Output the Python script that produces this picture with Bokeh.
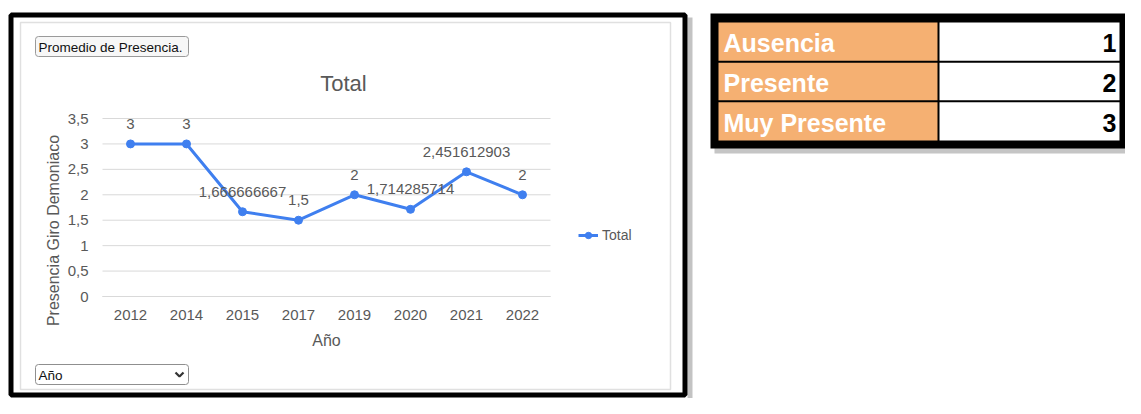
import math
from bokeh.plotting import figure
from bokeh.models import (Range1d, FixedTicker, CustomJSTickFormatter,
                          ColumnDataSource, LabelSet, Label, BoxAnnotation,
                          Legend, LegendItem)
from bokeh.core.properties import value
from bokeh.embed import file_html
from bokeh.resources import INLINE

# ---------------- data ----------------
years = ["2012", "2014", "2015", "2017", "2019", "2020", "2021", "2022"]
totals = [3, 3, 1.666666667, 1.5, 2, 1.714285714, 2.451612903, 2]
y_ticks = [0, 0.5, 1, 1.5, 2, 2.5, 3, 3.5]
table_labels = ["Ausencia", "Presente", "Muy Presente"]
table_values = [1, 2, 3]

chart_title = "Total"
x_title = "Año"
y_title = "Presencia Giro Demoniaco"
filter_button = "Promedio de Presencia."
axis_dropdown = "Año"

# ---------------- layout helpers ----------------
W, H = 1125, 398
PL, PR, PT, PB = 102, 550, 118, 296     # plot area in canvas px (from top-left)
Y_MAX = 3.5
n_cat = len(years)
kx = (PR - PL) / n_cat
ky = (PB - PT) / Y_MAX


def X(r):   # canvas x (from left) -> pixel range
    return r


def Y(r):   # canvas y (from top) -> pixel range (y up)
    return H - r


GRAY_TXT = "#595959"
BLUE = "#3F7FEF"
FONT = "Liberation Sans"

cat_pos = [i + 0.5 for i in range(n_cat)]   # category centres on the x scale

p = figure(width=W, height=H,
           x_range=Range1d(-PL / kx, (W - PL) / kx),
           y_range=Range1d(-(H - PB) / ky, Y_MAX + PT / ky),
           output_backend="svg", toolbar_location=None,
           min_border=0, outline_line_color=None,
           background_fill_color="white", border_fill_color="white")
p.extra_x_ranges = {"px": Range1d(0, W)}
p.extra_y_ranges = {"px": Range1d(0, H)}
p.grid.visible = False

# axes (fixed at the plot-area edges)
p.xaxis.fixed_location = 0
p.xaxis.bounds = (0, n_cat)
p.xaxis.ticker = FixedTicker(ticks=cat_pos, minor_ticks=[])
p.xaxis.formatter = CustomJSTickFormatter(args=dict(cats=years),
                                          code="return cats[Math.floor(tick)];")
p.xaxis.axis_line_color = "#d9d9d9"
p.xaxis.major_tick_line_color = None
p.xaxis.minor_tick_line_color = None
p.xaxis.major_tick_out = 0
p.xaxis.major_tick_in = 0
p.xaxis.major_label_standoff = 13
p.xaxis.major_label_text_font = FONT
p.xaxis.major_label_text_font_size = "15px"
p.xaxis.major_label_text_color = GRAY_TXT
p.xaxis.axis_label = x_title
p.xaxis.axis_label_text_font = FONT
p.xaxis.axis_label_text_font_size = "16px"
p.xaxis.axis_label_text_font_style = "normal"
p.xaxis.axis_label_text_color = GRAY_TXT
p.xaxis.axis_label_standoff = 9

p.yaxis.fixed_location = 0
p.yaxis.bounds = (0, Y_MAX)
p.yaxis.ticker = FixedTicker(ticks=y_ticks, minor_ticks=[])
p.yaxis.formatter = CustomJSTickFormatter(code="return tick.toString().replace('.', ',');")
p.yaxis.axis_line_color = None
p.yaxis.major_tick_line_color = None
p.yaxis.minor_tick_line_color = None
p.yaxis.major_tick_out = 0
p.yaxis.major_tick_in = 0
p.yaxis.major_label_standoff = 14
p.yaxis.major_label_text_font = FONT
p.yaxis.major_label_text_font_size = "15px"
p.yaxis.major_label_text_color = GRAY_TXT

# horizontal gridlines across the plot area
gsrc = ColumnDataSource(dict(y=y_ticks))
p.segment(x0=0, x1=n_cat, y0="y", y1="y", source=gsrc, line_color="#d9d9d9", line_width=1)

# series
src = ColumnDataSource(dict(x=cat_pos, y=totals, year=years,
                            txt=[f"{v:.10g}".replace(".", ",") for v in totals]))
lr = p.line("x", "y", source=src, line_color=BLUE, line_width=3)
sr = p.scatter("x", "y", source=src, size=8, fill_color=BLUE, line_color=BLUE)
p.add_layout(LabelSet(x="x", y="y", text="txt", source=src, y_offset=20,
                      text_align="center", text_baseline="middle",
                      text_font=value(FONT), text_font_size="15px", text_color=GRAY_TXT))

legend = Legend(items=[LegendItem(label="Total", renderers=[lr, sr])],
                location=(X(578), Y(243)), padding=0, margin=0, spacing=0,
                glyph_width=20, glyph_height=16, label_height=16, label_standoff=4,
                label_text_font=FONT, label_text_font_size="14px",
                label_text_color=GRAY_TXT, background_fill_alpha=0,
                border_line_color=None)
p.add_layout(legend, "center")


def box(l, r, t, b, fill=None, line=None, lw=1, alpha=1.0, radius=0):
    bx = BoxAnnotation(left=X(l), right=X(r), top=Y(t), bottom=Y(b),
                       x_range_name="px", y_range_name="px",
                       fill_color=fill if fill else "white",
                       fill_alpha=alpha if fill else 0,
                       line_color=line if line else "white",
                       line_alpha=1 if line else 0, line_width=lw,
                       border_radius=radius)
    p.add_layout(bx)
    return bx


def label(x, y, text, size, color, align="left", baseline="middle", font=FONT,
          style="normal", angle=0):
    p.add_layout(Label(x=X(x), y=Y(y), text=text, x_range_name="px", y_range_name="px",
                       text_font=font, text_font_size=size, text_color=color,
                       text_align=align, text_baseline=baseline,
                       text_font_style=style, angle=angle))


# ---------------- chart panel decorations ----------------
box(687, 692, 17, 398, fill="#b4b4b4", alpha=0.8)          # shadow right
box(10.5, 684.5, 14.5, 394.5, line="black", lw=5)          # black frame
box(20, 670, 22, 389, line="#e0e0e0", lw=1.5)              # inner chart border

label(343, 83, chart_title, "22px", GRAY_TXT, align="center")
label(53, 230, y_title, "16px", GRAY_TXT, align="center", angle=math.pi / 2)

# filter button
box(35, 188, 36, 56, fill="#f7f7f7", line="#9a9a9a", lw=1, radius=3)
label(38, 46.5, filter_button, "13.5px", "#111111")

# axis field dropdown (outline only so the chevron glyph stays visible)
box(35, 188, 364, 384, line="#8f8f8f", lw=1, radius=3)
label(38, 374.5, axis_dropdown, "13.5px", "#111111")
chev_x = [175, 179, 183]
chev_y = [372, 376, 372]
p.line(x=[X(v) for v in chev_x], y=[Y(v) for v in chev_y], x_range_name="px",
       y_range_name="px", line_color="#333333", line_width=2.2)

# ---------------- legend table ----------------
T_LEFT, T_MID, T_RIGHT = 718, 938, 1119
T_TOP, ROW_H = 22, 39.33
n = len(table_labels)
box(714, W, 18, 153, fill="#9e9e9e", alpha=0.6)                          # shadow
box(710, W, 13, T_TOP + ROW_H * n + 8, fill="black")                    # black frame
for i, (lab, val) in enumerate(zip(table_labels, table_values)):
    top = T_TOP + ROW_H * i + (1 if i > 0 else 0)
    bot = T_TOP + ROW_H * (i + 1) - (1 if i < n - 1 else 0)
    box(T_LEFT, T_MID - 1, top, bot, fill="#F5B072")
    box(T_MID + 1, T_RIGHT, top, bot, fill="white")
    mid = (top + bot) / 2 + 1.5
    label(723, mid, lab, "25px", "white", style="bold")
    label(T_RIGHT - 3, mid, str(val), "25px", "black", align="right", style="bold")

open("out.html", "w").write(file_html(p, INLINE))
